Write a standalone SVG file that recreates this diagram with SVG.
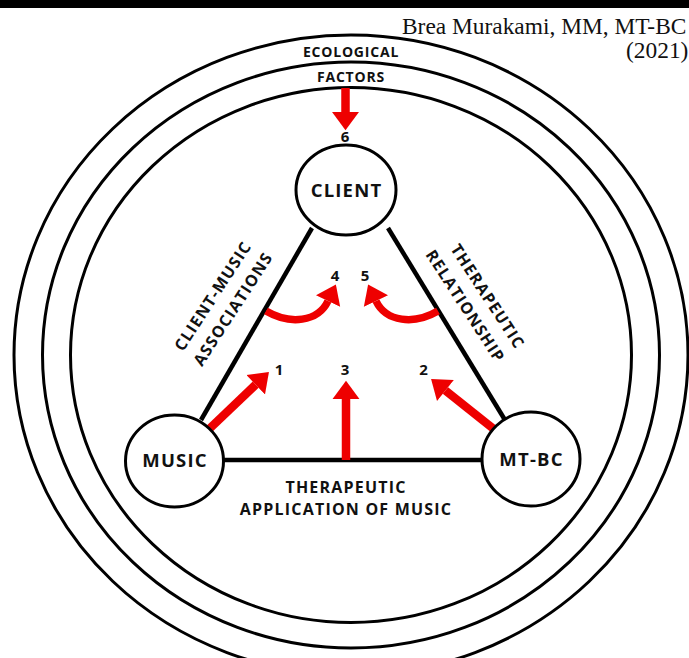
<svg xmlns="http://www.w3.org/2000/svg" width="689" height="658" viewBox="0 0 689 658">
<style>
.ring{fill:none;stroke:#000;stroke-width:3}
.edge{stroke:#000;stroke-width:4.5;stroke-linecap:butt;fill:none}
.arr{stroke:#ee0000;stroke-width:8.5;fill:none;stroke-linecap:butt}
.node{fill:#fff;stroke:#000;stroke-width:3}
.lbl{font-family:"Open Sans","Noto Sans",sans-serif;font-weight:700;fill:#111;text-anchor:middle}
.nl{font-size:18.5px;letter-spacing:1.2px}
.el{font-size:16px;letter-spacing:1.2px}
.rl{font-size:14px;letter-spacing:0.8px}
.num{font-size:15px}
.auth{font-family:"Liberation Serif","Times New Roman",serif;font-size:23.4px;fill:#111}
</style>
<defs>
<marker id="ah" markerUnits="userSpaceOnUse" markerWidth="20" markerHeight="28" viewBox="0 -13 18 26" refX="0" refY="0" orient="auto">
<path d="M0,-12.5 L17,0 L0,12.5 Z" fill="#ee0000"/>
</marker>
</defs>
<rect x="0" y="0" width="689" height="8" fill="#000"/>
<text class="auth" x="402" y="34">Brea Murakami, MM, MT-BC</text>
<text class="auth" x="626" y="58">(2021)</text>
<g id="rings">
<ellipse class="ring" cx="351" cy="355" rx="337" ry="320"/>
<ellipse class="ring" cx="351" cy="355" rx="308.5" ry="293"/>
<ellipse class="ring" cx="351" cy="355" rx="280.5" ry="267.5"/>
<text class="lbl rl" x="351" y="57">ECOLOGICAL</text>
<text class="lbl rl" x="351" y="82">FACTORS</text>
</g>
<g id="connectors">
<line class="edge" x1="312" y1="228" x2="201" y2="420"/>
<line class="edge" x1="388" y1="228" x2="505" y2="420"/>
<line class="edge" x1="215" y1="460" x2="490" y2="460"/>
<path class="arr" d="M345.5 88 V112" marker-end="url(#ah)"/>
<path class="arr" d="M346 460 V399" marker-end="url(#ah)"/>
<path class="arr" d="M205 433 L255.7 384.7" marker-end="url(#ah)"/>
<path class="arr" d="M500 434 L445.4 390.5" marker-end="url(#ah)"/>
<path class="arr" style="stroke-width:7.5" d="M266 311 C290 325 318 322 328 301" marker-end="url(#ah)"/>
<path class="arr" style="stroke-width:7.5" d="M438 311 C414 325 386 322 376 301" marker-end="url(#ah)"/>
</g>
<g id="edge-labels">
<g transform="translate(213,296) rotate(-57)">
<text class="lbl el" x="0" y="5.5">CLIENT-MUSIC</text>
<text class="lbl el" x="0" y="29.5">ASSOCIATIONS</text>
</g>
<g transform="translate(487.5,296.5) rotate(57)">
<text class="lbl el" x="0" y="5.5">THERAPEUTIC</text>
<text class="lbl el" x="-4" y="29.5">RELATIONSHIP</text>
</g>
<text class="lbl el" x="346" y="493">THERAPEUTIC</text>
<text class="lbl el" x="346" y="515">APPLICATION OF MUSIC</text>
<text class="lbl num" x="279" y="375">1</text>
<text class="lbl num" x="423.5" y="375">2</text>
<text class="lbl num" x="345" y="375">3</text>
<text class="lbl num" x="335" y="281">4</text>
<text class="lbl num" x="365" y="281">5</text>
<text class="lbl num" x="345" y="142">6</text>
</g>
<g id="node-client">
<ellipse class="node" cx="346" cy="190" rx="50" ry="45"/>
<text class="lbl nl" x="346.5" y="197">CLIENT</text>
</g>
<g id="node-music">
<ellipse class="node" cx="174.5" cy="461" rx="49" ry="46"/>
<text class="lbl nl" x="175" y="467">MUSIC</text>
</g>
<g id="node-mtbc">
<ellipse class="node" cx="531" cy="459" rx="49" ry="47"/>
<text class="lbl nl" x="531.5" y="466">MT-BC</text>
</g>
</svg>
